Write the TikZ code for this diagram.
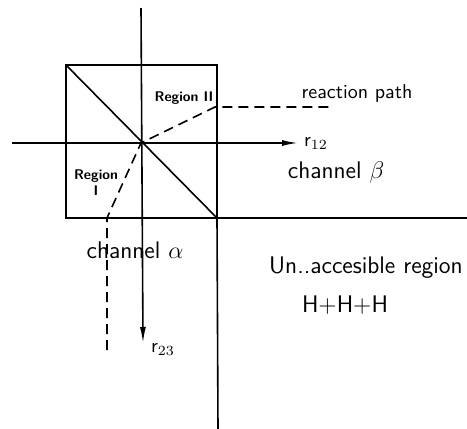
\documentclass[tikz,border=0pt]{standalone}
\usepackage{amsmath,amssymb}
\usepackage{tikz}
\usetikzlibrary{arrows.meta,positioning,calc}

\begin{document}
\begin{tikzpicture}[x=0.5pt,y=-0.5pt,line width=0.8pt,
    lbl/.style={font=\sffamily\normalsize, inner sep=1pt},
    biglbl/.style={font=\sffamily\large, inner sep=1pt},
    smalllbl/.style={font=\sffamily\scriptsize\bfseries, inner sep=1pt},
    pathline/.style={dash pattern=on 5pt off 3pt},
    axis/.style={-{Latex[length=8pt,width=3pt]}}]
    \useasboundingbox (0,0) rectangle (467,429);

    % square and its corners
    \coordinate (TL) at (66,65);
    \coordinate (TR) at (217,65);
    \coordinate (BR) at (217,218);
    \coordinate (BL) at (66,218);
    \coordinate (O) at (141,143);
    \draw (TL) -- (TR) -- (BR) -- (BL) -- cycle;
    \draw (TL) -- (BR);

    % axes
    \coordinate (xl) at (12,143);
    \coordinate (xr) at (298,143);
    \coordinate (yt) at (141,8);
    \coordinate (yb) at (143,343);
    \draw[axis] (xl) -- (xr);
    \draw[axis] (yt) -- (yb);
    \node[lbl] (r12) at (316,143) {r$_{12}$};
    \node[lbl] (r23) at (163,349) {r$_{23}$};

    % borders of the unaccessible region
    \coordinate (ve) at (218,429);
    \coordinate (he) at (467,218);
    \draw (BR) -- (ve);
    \draw (BR) -- (he);

    % reaction path
    \coordinate (pa) at (107,218);
    \coordinate (pe) at (107,350);
    \coordinate (pb) at (215,107);
    \coordinate (pc) at (330,107);
    \draw[pathline] (pe) -- (pa) -- (O) -- (pb) -- (pc);

    % labels
    \node[smalllbl] (reg2) at (184,98) {Region II};
    \node[smalllbl, align=center] (reg1) at (96,183) {Region\\I};
    \node[lbl] (rpath) at (357,93) {reaction path};
    \node[biglbl] (chb) at (336,172) {channel $\beta$};
    \node[biglbl] (cha) at (135,250) {channel $\alpha$};
    \node[biglbl] (unacc) at (366,268) {Un..accesible region};
    \node[biglbl] (hhh) at (345,305) {H+H+H};
\end{tikzpicture}
\end{document}
